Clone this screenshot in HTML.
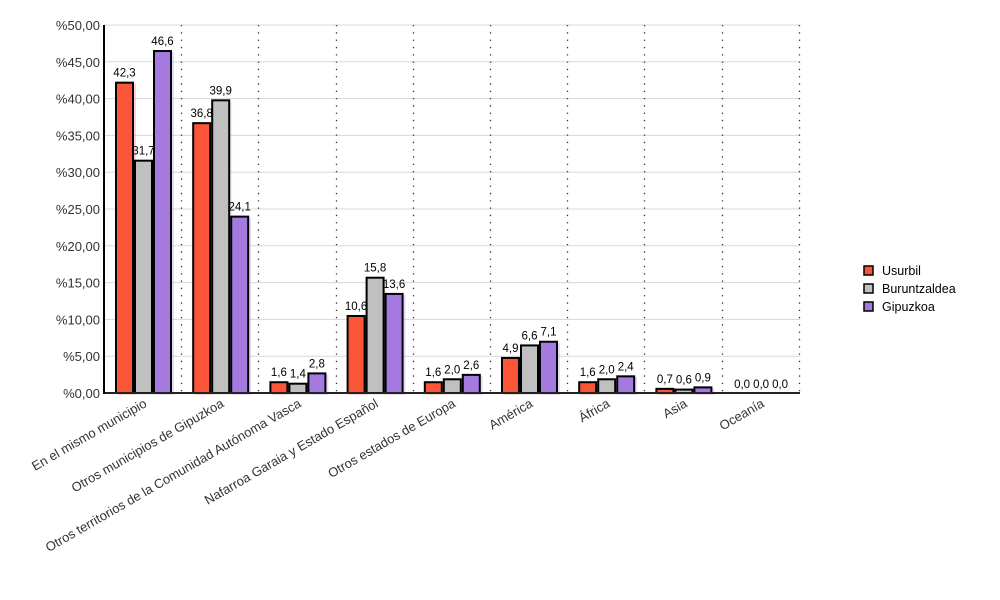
<!DOCTYPE html>
<html><head><meta charset="utf-8"><style>body{margin:0;background:#fff}svg{display:block;font-family:"Liberation Sans",sans-serif}</style></head><body>
<svg width="1000" height="600" viewBox="0 0 1000 600">
<g id="g"></g>
</svg>
<script>
var s='';
var x0=104,y0=393,k=7.36,cw=77.2;
for(var v=5;v<=50;v+=5){var y=y0-v*k;s+='<line x1="104" y1="'+y+'" x2="800" y2="'+y+'" stroke="#d8d8d8" stroke-width="1"/>';}
for(var v=0;v<=50;v+=5){var y=y0-v*k;s+='<text x="100" y="'+(y+5)+'" text-anchor="end" font-size="13" fill="#333">%'+v+',00</text>';}
for(var i=1;i<=9;i++){var x=Math.round(x0+i*cw)+0.5;s+='<line x1="'+x+'" y1="25" x2="'+x+'" y2="393" stroke="#333" stroke-width="1.3" stroke-dasharray="1.3,6"/>';}
var cats=["En el mismo municipio","Otros municipios de Gipuzkoa","Otros territorios de la Comunidad Autónoma Vasca","Nafarroa Garaia y Estado Español","Otros estados de Europa","América","África","Asia","Oceanía"];
var d=[[42.3,31.7,46.6],[36.8,39.9,24.1],[1.6,1.4,2.8],[10.6,15.8,13.6],[1.6,2.0,2.6],[4.9,6.6,7.1],[1.6,2.0,2.4],[0.7,0.6,0.9],[0,0,0]];
var col=["#fa5537","#c0c0c0","#a479e0"];
for(var i=0;i<9;i++){var cs=x0+i*cw;
for(var j=0;j<3;j++){var v=d[i][j],x=cs+11+j*19,h=v*k,y=y0-h;
if(v>0){s+='<rect x="'+(x+2)+'" y="'+(y+2)+'" width="19" height="'+h+'" fill="'+col[j]+'" opacity="0.25"/>';
s+='<rect x="'+(x+1)+'" y="'+(y+1)+'" width="17" height="'+Math.max(h-1,1)+'" fill="'+col[j]+'" stroke="#000" stroke-width="2"/>';}
s+='<text x="'+(x+9.5)+'" y="'+(y-5)+'" text-anchor="middle" font-size="11.5" fill="#000">'+v.toFixed(1).replace('.',',')+'</text>';}
var cx=cs+cw/2+5;s+='<text x="'+cx+'" y="406" text-anchor="end" font-size="13" fill="#333" transform="rotate(-30 '+cx+' 406)">'+cats[i]+'</text>';}
s+='<line x1="104" y1="393" x2="800" y2="393" stroke="#222" stroke-width="2"/>';
s+='<line x1="104" y1="25" x2="104" y2="394" stroke="#000" stroke-width="2"/>';
var ln=["Usurbil","Buruntzaldea","Gipuzkoa"];
for(var j=0;j<3;j++){var y=265+j*18;s+='<rect x="864" y="'+(y+1)+'" width="9" height="9" fill="'+col[j]+'" stroke="#000" stroke-width="1.5"/><text x="882" y="'+(y+10)+'" font-size="12.5" fill="#000">'+ln[j]+'</text>';}
document.getElementById('g').innerHTML=s;
</script>
</body></html>
